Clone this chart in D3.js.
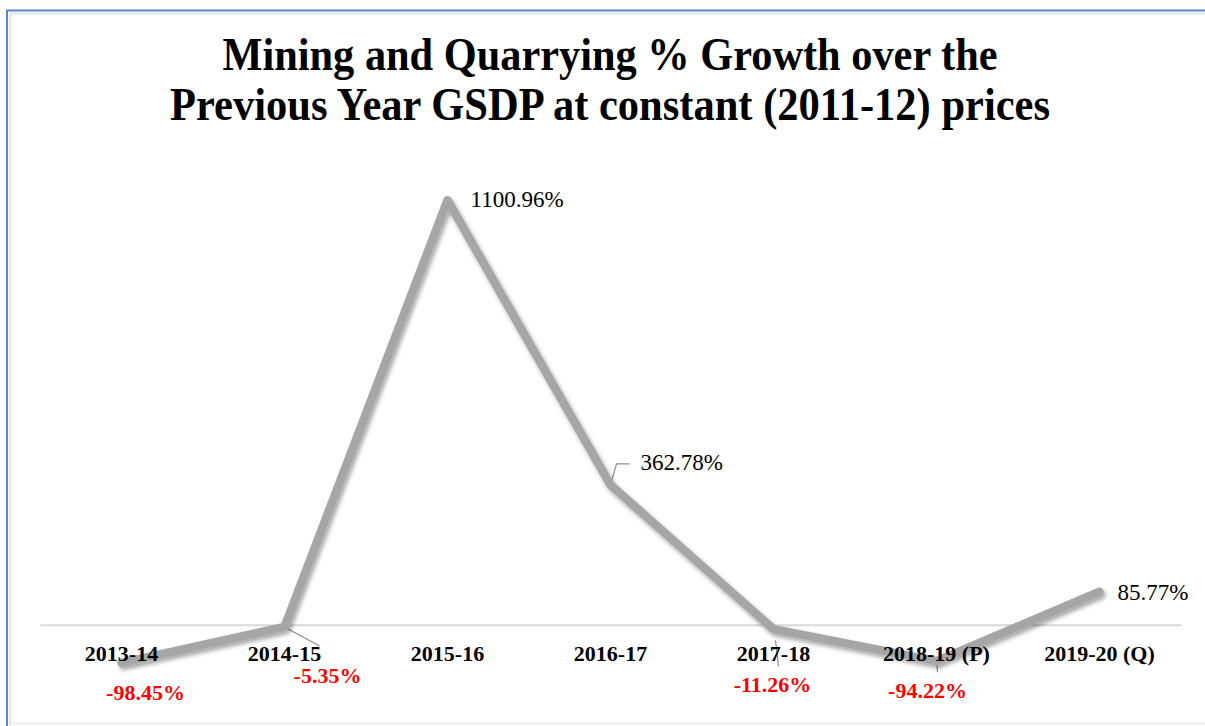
<!DOCTYPE html>
<html>
<head>
<meta charset="utf-8">
<script src="https://cdn.jsdelivr.net/npm/d3@7"></script>
<style>
  html, body { margin: 0; padding: 0; background: #fff; }
  svg { display: block; }
</style>
</head>
<body>
<svg id="chart" width="1205" height="726"></svg>
<script>
// Mining and Quarrying: % growth over previous year, GSDP at constant prices
const categories = ["2013-14", "2014-15", "2015-16", "2016-17", "2017-18", "2018-19 (P)", "2019-20 (Q)"];
const growth = [-98.45, -5.35, 1100.96, 362.78, -11.26, -94.22, 85.77];
const titleLines = ["Mining and Quarrying % Growth over the", "Previous Year GSDP at constant (2011-12) prices"];

// Label placement relative to each point (dx, dy of text baseline)
const labelOffsets = [
  { dx: 24, dy: 37, anchor: "middle" },
  { dx: 43, dy: 56, anchor: "middle", leader: [[0, 0], [35, 19]] },
  { dx: 23, dy: 7, anchor: "start" },
  { dx: 30, dy: -15, anchor: "start", leader: [[0, 0], [6, -21], [19, -21]] },
  { dx: -1, dy: 63, anchor: "middle", leader: [[2, 11], [5, 37]] },
  { dx: -9, dy: 37, anchor: "middle", leader: [[0, 0], [1, 11]] },
  { dx: 18, dy: 8, anchor: "start" }
];

const svg = d3.select("#chart");

// Frame edges
svg.append("line").attr("x1", 6).attr("x2", 1205).attr("y1", 10.5).attr("y2", 10.5)
  .attr("stroke", "#5a82d8").attr("stroke-width", 2);
svg.append("line").attr("x1", 7).attr("x2", 7).attr("y1", 10).attr("y2", 726)
  .attr("stroke", "#5a82d8").attr("stroke-width", 2);
svg.append("line").attr("x1", 9).attr("x2", 1205).attr("y1", 13.5).attr("y2", 13.5)
  .attr("stroke", "#e6e6e6").attr("stroke-width", 2);
svg.append("line").attr("x1", 10).attr("x2", 10).attr("y1", 13).attr("y2", 726)
  .attr("stroke", "#e6e6e6").attr("stroke-width", 2);
svg.append("line").attr("x1", 10).attr("x2", 1205).attr("y1", 723.5).attr("y2", 723.5)
  .attr("stroke", "#eeeeee").attr("stroke-width", 2);

// Title
const titleY = [70, 120];
const titleLen = [775, 880];
svg.selectAll("text.title").data(titleLines).join("text")
  .attr("class", "title")
  .attr("x", 610)
  .attr("y", (d, i) => titleY[i])
  .attr("text-anchor", "middle")
  .attr("textLength", (d, i) => titleLen[i])
  .attr("lengthAdjust", "spacingAndGlyphs")
  .style("font-family", "'Liberation Serif', 'Times New Roman', serif")
  .style("font-weight", "bold")
  .style("font-size", "46px")
  .attr("fill", "#000")
  .text(d => d);

// Scales
const x = d3.scaleBand().domain(categories).range([40, 1181]).padding(0);
const y = d3.scaleLinear().domain([-200, 1200]).range([702, 162]);
const cx = c => x(c) + x.bandwidth() / 2;

// Zero baseline (category axis)
const axis = svg.append("g").attr("transform", `translate(0,${y(0)})`)
  .call(d3.axisBottom(x).tickSize(0).tickPadding(0));
axis.select(".domain").attr("stroke", "#d9d9d9").attr("stroke-width", 2);
axis.selectAll(".tick text").remove();

// Drop shadow for the series line
const defs = svg.append("defs");
const f = defs.append("filter").attr("id", "lineShadow")
  .attr("x", "-10%").attr("y", "-10%").attr("width", "120%").attr("height", "130%");
f.append("feDropShadow").attr("dx", 2).attr("dy", 3).attr("stdDeviation", 2.2)
  .attr("flood-color", "#000").attr("flood-opacity", 0.35);

const pts = categories.map((c, i) => ({ c, v: growth[i], px: cx(c), py: y(growth[i]) }));

// Leader lines
pts.forEach((p, i) => {
  const o = labelOffsets[i];
  if (!o.leader) return;
  svg.append("path")
    .attr("d", d3.line()(o.leader.map(([a, b]) => [p.px + a, p.py + b])))
    .attr("fill", "none").attr("stroke", "#8c8c8c").attr("stroke-width", 1.2);
});

// Series line
svg.append("path")
  .datum(pts)
  .attr("d", d3.line().x(d => d.px).y(d => d.py))
  .attr("fill", "none")
  .attr("stroke", "#a6a6a6")
  .attr("stroke-width", 8.5)
  .attr("stroke-linecap", "round")
  .attr("stroke-linejoin", "round")
  .attr("filter", "url(#lineShadow)");

// Category labels
svg.selectAll("text.cat").data(categories).join("text")
  .attr("class", "cat")
  .attr("x", d => cx(d))
  .attr("y", 661)
  .attr("text-anchor", "middle")
  .style("font-family", "'Liberation Serif', 'Times New Roman', serif")
  .style("font-weight", "bold")
  .style("font-size", "22px")
  .attr("fill", "#000")
  .text(d => d);

// Value labels (plain hyphen for the minus sign)
const fmt = v => v.toFixed(2) + "%";
svg.selectAll("text.val").data(pts).join("text")
  .attr("class", "val")
  .attr("x", (d, i) => d.px + labelOffsets[i].dx)
  .attr("y", (d, i) => d.py + labelOffsets[i].dy)
  .attr("text-anchor", (d, i) => labelOffsets[i].anchor)
  .style("font-family", "'Liberation Serif', 'Times New Roman', serif")
  .style("font-weight", d => d.v < 0 ? "bold" : "normal")
  .style("font-size", d => d.v < 0 ? "22px" : "23px")
  .attr("fill", d => d.v < 0 ? "#ff0000" : "#000")
  .text(d => fmt(d.v));
</script>
</body>
</html>
